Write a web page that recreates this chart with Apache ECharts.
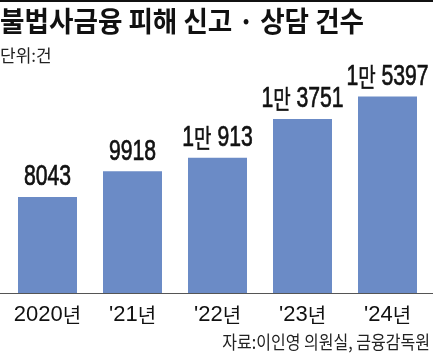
<!DOCTYPE html>
<html>
<head>
<meta charset="utf-8">
<script src="https://cdn.jsdelivr.net/npm/echarts@6/dist/echarts.min.js"></script>
<style>
  html, body { margin: 0; padding: 0; background: #fff; }
  #chart { width: 433px; height: 354px; }
</style>
</head>
<body>
<div id="chart"></div>
<script>
// 연도 | Years
const years = ['2020년', "'21년", "'22년", "'23년", "'24년"];
// 신고·상담 건수 | Report counts
const counts = [8043, 9918, 10913, 13751, 15397];

const titleText = '불법사금융 피해 신고 · 상담 건수';
const unitText = '단위:건';
const sourceText = '자료:이인영 의원실, 금융감독원';

const LAT = '"Liberation Sans", Arial, sans-serif';
const KR = '"Noto Sans CJK KR", sans-serif';

// 1만 단위 표기 | Format as "1만 913"
function fmtCount(v) {
    if (v >= 10000) {
        return '{n|' + Math.floor(v / 10000) + '}{u|만}{n| ' + (v % 10000) + '}';
    }
    return '{n|' + v + '}';
}

// 연도 라벨 | Year label with 년 in Korean font
function fmtYear(s) {
    return '{n|' + s.replace('년', '') + '}{u|년}';
}

const chart = echarts.init(document.getElementById('chart'));

const option = {
    animation: false,
    backgroundColor: '#fff',
    grid: [
        { left: 5, right: 3, top: 61, bottom: 61 },
        { left: 0, right: 0, top: 61, bottom: 61 }
    ],
    xAxis: [
        {
            type: 'category',
            gridIndex: 0,
            data: years,
            axisLine: { show: false },
            axisTick: { show: false },
            axisLabel: {
                interval: 0,
                margin: 11,
                formatter: fmtYear,
                rich: {
                    n: { fontFamily: LAT, fontSize: 22, color: '#111' },
                    u: { fontFamily: KR, fontSize: 20, color: '#111' }
                }
            }
        },
        {
            type: 'category',
            gridIndex: 1,
            data: years,
            axisLine: { show: true, lineStyle: { color: '#555', width: 1 } },
            axisTick: { show: false },
            axisLabel: { show: false }
        }
    ],
    yAxis: [
        { type: 'value', gridIndex: 0, min: 1000, max: 18000, show: false, splitLine: { show: false } },
        { type: 'value', gridIndex: 1, min: 0, max: 1, show: false, splitLine: { show: false } }
    ],
    series: [
        {
            type: 'bar',
            data: counts,
            barWidth: 59,
            itemStyle: { color: '#6b8bc6' }
        },
        {
            // 좁은 글꼴 흉내 | Condensed value labels above bars
            type: 'custom',
            data: counts.map((v, i) => [i, v]),
            renderItem: function (params, api) {
                const pt = api.coord([api.value(0), api.value(1)]);
                return {
                    type: 'text',
                    x: pt[0],
                    y: pt[1] - 5,
                    scaleX: 0.73,
                    style: {
                        x: 0,
                        y: 0,
                        text: fmtCount(api.value(1)),
                        align: 'center',
                        verticalAlign: 'bottom',
                        rich: {
                            n: { font: '29px ' + LAT, fill: '#111', stroke: '#111', lineWidth: 0.7 },
                            u: { font: '26px ' + KR, fill: '#111', stroke: '#111', lineWidth: 0.5 }
                        }
                    }
                };
            },
            z: 5
        }
    ],
    graphic: [
        { type: 'rect', left: 0, top: 0, shape: { width: 433, height: 2 }, style: { fill: '#111' } },
        {
            type: 'text', x: 0, y: 7, scaleX: 0.95,
            style: { text: titleText, font: 'bold 28px ' + KR, fill: '#111' }
        },
        {
            type: 'text', left: 0, top: 47,
            style: { text: unitText, font: '17px ' + KR, fill: '#222' }
        },
        {
            type: 'text', x: 430, y: 333, scaleX: 0.89,
            style: { text: sourceText, font: '18px ' + KR, fill: '#222', align: 'right' }
        }
    ]
};

chart.setOption(option);
</script>
</body>
</html>
